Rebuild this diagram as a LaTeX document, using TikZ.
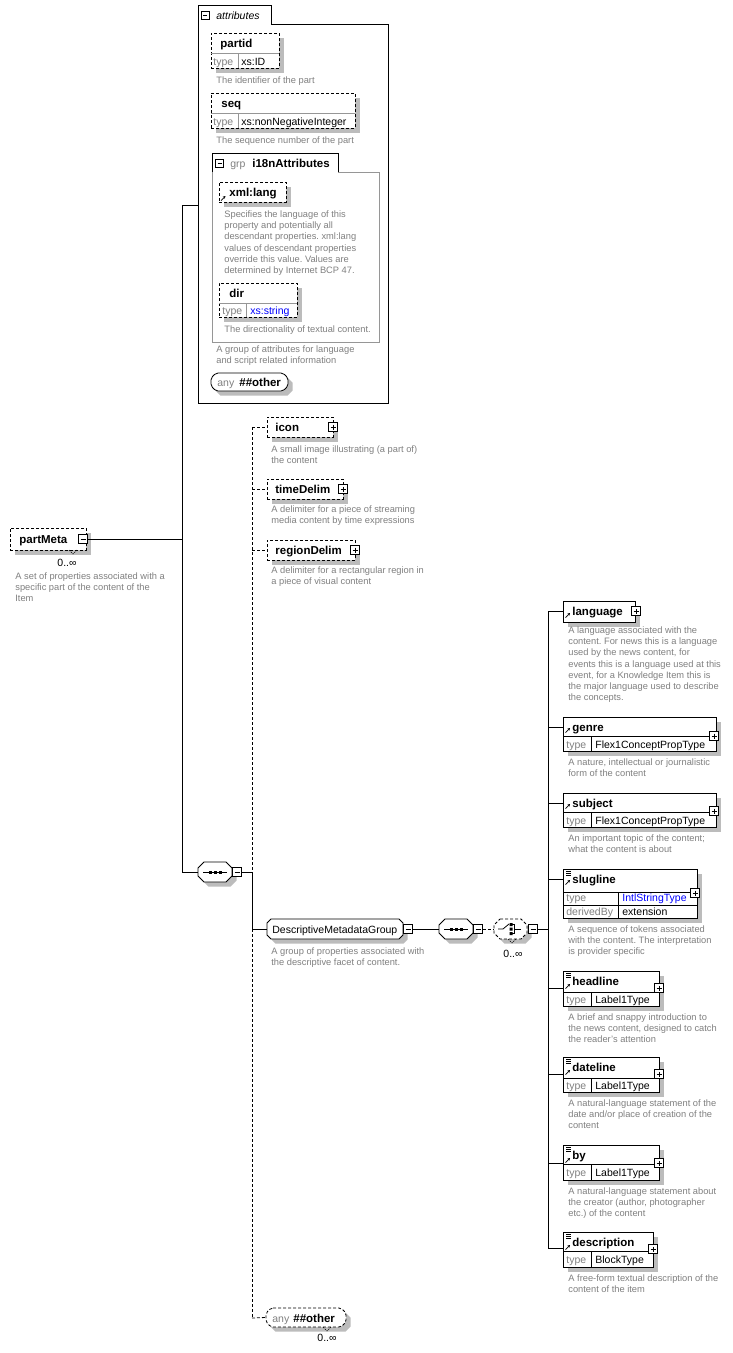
\documentclass[tikz,border=0pt]{standalone}
\usepackage{fontspec}
\setmainfont{Liberation Sans}
\usetikzlibrary{fit,arrows.meta}
\definecolor{shd}{RGB}{188,188,188}
\definecolor{dscc}{RGB}{128,128,128}
\definecolor{grpc}{RGB}{150,150,150}
\definecolor{typeblue}{RGB}{0,0,255}
\tikzset{
 rbox/.style={draw, fill=white, inner sep=0pt},
 obox/.style={rbox, dash pattern=on 3pt off 2pt},
 nm/.style={font=\fontsize{11.5}{13}\selectfont\bfseries, inner sep=0pt, anchor=base west},
 tx/.style={font=\fontsize{10.5}{12}\selectfont, inner sep=0pt, anchor=base west},
 gtx/.style={tx, text=dscc},
 btx/.style={tx, text=typeblue},
 desc/.style={font=\fontsize{9.3}{11.2}\selectfont\frenchspacing, text=dscc, inner sep=0pt, anchor=north west, align=left, execute at begin node=\strut},
 xbox/.style={draw, fill=white, minimum size=9pt, inner sep=0pt, line width=0.6pt},
 pbox/.style={xbox, path picture={\draw[line width=0.6pt] ([xshift=2pt]path picture bounding box.west) -- ([xshift=-2pt]path picture bounding box.east) ([yshift=-2pt]path picture bounding box.north) -- ([yshift=2pt]path picture bounding box.south);}},
 mbox/.style={xbox, path picture={\draw[line width=0.6pt] ([xshift=2pt]path picture bounding box.west) -- ([xshift=-2pt]path picture bounding box.east);}},
 oconn/.style={dash pattern=on 3pt off 2pt},
 refarrow/.style={line width=0.7pt, -{Stealth[length=2.6pt,width=2.8pt]}},
 notch/.style={line width=0.6pt, dash pattern=on 1.5pt off 1pt},
}
% shadowed box: [style]{name}{x1}{y1}{x2}{y2}
\newcommand\ebox[6][rbox]{%
 \fill[shd] ({#3+4.5},{#4+4.5}) rectangle ({#5+4.5},{#6+4.5});
 \node[#1, fit={(#3,#4)(#5,#6)}] (#2) {};}
\newcommand\octo[7]{%
 \fill[shd, shift={(4.5,4.5)}] (#2+#6,#3) -- (#4-#6,#3) -- (#4,#3+#6) -- (#4,#5-#6) -- (#4-#6,#5) -- (#2+#6,#5) -- (#2,#5-#6) -- (#2,#3+#6) -- cycle;
 \draw[fill=white,#7] (#2+#6,#3) -- (#4-#6,#3) -- (#4,#3+#6) -- (#4,#5-#6) -- (#4-#6,#5) -- (#2+#6,#5) -- (#2,#5-#6) -- (#2,#3+#6) -- cycle;
 \node[fit={(#2,#3)(#4,#5)}, inner sep=0pt] (#1) {};}
\newcommand\refic[2]{\draw[refarrow] (#1,#2) -- (#1+4.5,#2-4.5);}
\newcommand\mixic[2]{\draw[line width=0.6pt] (#1,#2) -- (#1+5,#2) (#1,#2+2) -- (#1+5,#2+2) (#1,#2+4) -- (#1+5,#2+4);}
\newcommand\seqic[2]{\draw[line width=0.8pt] (#1-12,#2) -- (#1+12,#2);
 \fill (#1-6.5,#2-1.5) rectangle (#1-3.5,#2+1.5); \fill (#1-1.5,#2-1.5) rectangle (#1+1.5,#2+1.5); \fill (#1+3.5,#2-1.5) rectangle (#1+6.5,#2+1.5);}
\newcommand\notchat[2]{\draw[notch] (#1-4,#2) -- (#1,#2+4) -- (#1+4,#2);}
\begin{document}
\begin{tikzpicture}[x=1pt,y=-1pt,line width=0.8pt]
\fill[white] (0,0) rectangle (732,1353);
\useasboundingbox (0,0) rectangle (732,1353);

% ---------------- attributes container
\draw (198,403) -- (198,5) -- (271,5) -- (271,24) -- (388,24) -- (388,403) -- cycle;
\node[fit={(198,24)(388,403)}, inner sep=0pt] (attr) {};
\node[mbox, minimum size=8pt] (attrm) at (205,15) {};
\node[tx, font=\fontsize{10.5}{12}\selectfont\itshape] (attrt) at (216,19) {attributes};

% partid
\ebox[obox]{partid}{211}{33}{279}{68}
\draw[grpc] (211,53) -- (279,53) (238,53) -- (238,68);
\node[nm] (partidt) at (220,47) {partid};
\node[gtx] (partidty) at (213,65) {type};
\node[tx] (partidtv) at (241,65) {xs:ID};
\node[desc] (partidd) at (216,75.3) {The identifier of the part};

% seq
\ebox[obox]{seq}{211}{93}{355}{128}
\draw[grpc] (211,113) -- (355,113) (238,113) -- (238,128);
\node[nm] (seqt) at (221,107) {seq};
\node[gtx] (seqty) at (213,125) {type};
\node[tx] (seqtv) at (241,125) {xs:nonNegativeInteger};
\node[desc] (seqd) at (216,135.3) {The sequence number of the part};

% group i18nAttributes
\draw[grpc] (338,172) -- (379,172) -- (379,342) -- (212,342) -- (212,172);
\draw (212,172) -- (212,153) -- (338,153) -- (338,172);
\node[fit={(212,172)(379,342)}, inner sep=0pt] (grp) {};
\node[mbox, minimum size=8pt] (grpm) at (219.5,163) {};
\node[gtx] (grpg) at (230,167) {grp};
\node[nm] (grpt) at (252,167) {i18nAttributes};

% xml:lang
\ebox[obox]{xmllang}{219}{182}{286}{202}
\node[nm] (xmllangt) at (229,196) {xml:lang};
\refic{221}{200.5}
\node[desc] (xmllangd) at (224,210.3) {Specifies the language of this\\property and potentially all\\descendant properties. xml:lang\\values of descendant properties\\override this value. Values are\\determined by Internet BCP 47.};

% dir
\ebox[obox]{dir}{219}{283}{297}{317}
\draw[grpc] (219,303) -- (297,303) (246,303) -- (246,317);
\node[nm] (dirt) at (229,297) {dir};
\node[gtx] (dirty) at (222,314) {type};
\node[btx] (dirtv) at (250,314) {xs:string};
\node[desc] (dird) at (224,324.3) {The directionality of textual content.};

\node[desc] (grpd) at (216,345.3) {A group of attributes for language\\and script related information};

% any ##other (attributes)
\octo{anyattr}{211}{373}{288}{391}{5}{rounded corners=2pt}
\node[gtx] (anyattrg) at (217,386) {any};
\node[nm] (anyattrt) at (239,386) {\#\#other};

% ---------------- partMeta
\ebox[obox]{partMeta}{10}{528}{86}{550}
\notchat{73}{550}
\node[nm] (pmt) at (19,543) {partMeta};
\node[mbox] (pmm) at (83,539) {};
\node[tx, anchor=base] (pmocc) at (67,566) {0..∞};
\node[desc] (pmd) at (15,572.3) {A set of properties associated with a\\specific part of the content of the\\Item};

% trunk A
\coordinate (aTop) at (182,205);
\coordinate (aMid) at (182,539);
\coordinate (aBot) at (182,872);
\draw (aTop) -- (aBot);
\draw (aTop) -- (attr.west |- aTop);
\draw (pmm.east) -- (aMid);

% sequence 1
\octo{seqA}{198}{862}{232}{882}{6}{}
\seqic{215}{872}
\node[mbox] (seqAm) at (237,872) {};
\draw (aBot) -- (seqA.west);

% trunk B
\coordinate (bIcon) at (252,427);
\coordinate (bTime) at (252,489);
\coordinate (bRegion) at (252,550);
\coordinate (bSeq) at (252,872);
\coordinate (bDMG) at (252,929);
\coordinate (bAny) at (252,1318);
\draw[oconn] (bIcon) -- (bSeq);
\draw (bSeq) -- (bDMG);
\draw[oconn] (bDMG) -- (bAny);
\draw (seqAm.east) -- (bSeq);

% icon
\ebox[obox]{icon}{267}{417}{333}{437}
\node[nm] (icont) at (275,431) {icon};
\node[pbox] (iconp) at (333,427) {};
\node[desc] (icond) at (271,445.3) {A small image illustrating (a part of)\\the content};
\draw[oconn] (bIcon) -- (icon.west);

% timeDelim
\ebox[obox]{timeDelim}{267}{479}{343}{499}
\node[nm] (timeDelimt) at (275,493) {timeDelim};
\node[pbox] (timeDelimp) at (343,489) {};
\node[desc] (timeDelimd) at (271,505.3) {A delimiter for a piece of streaming\\media content by time expressions};
\draw[oconn] (bTime) -- (timeDelim.west);

% regionDelim
\ebox[obox]{regionDelim}{267}{540}{355}{560}
\node[nm] (regionDelimt) at (275,554) {regionDelim};
\node[pbox] (regionDelimp) at (355,550) {};
\node[desc] (regionDelimd) at (271,566.3) {A delimiter for a rectangular region in\\a piece of visual content};
\draw[oconn] (bRegion) -- (regionDelim.west);

% DescriptiveMetadataGroup
\octo{dmg}{267}{919}{403}{939}{4}{}
\node[tx] (dmgt) at (272,933) {DescriptiveMetadataGroup};
\node[mbox] (dmgm) at (408,929) {};
\node[desc] (dmgd) at (271,947.3) {A group of properties associated with\\the descriptive facet of content.};
\draw (bDMG) -- (dmg.west);

% sequence 2
\octo{seqB}{439}{919}{473}{939}{6}{}
\seqic{456}{929}
\node[mbox] (seqBm) at (478,929) {};
\draw (dmgm.east) -- (seqB.west);

% choice
\octo{choice}{494}{919}{527}{939}{6}{dash pattern=on 3pt off 2pt}
\notchat{512}{939}
\draw[line width=0.8pt] (498,929) -- (503,929) -- (509,924);
\draw[line width=0.7pt] (511,924.5) -- (514,924.5) -- (514,933.5) -- (511,933.5) (514,929) -- (521,929);
\fill (509.5,923) rectangle (512.5,926) (509.5,927.5) rectangle (512.5,930.5) (509.5,932) rectangle (512.5,935);
\node[mbox] (choicem) at (533,929) {};
\node[tx, anchor=base] (choiceocc) at (513,957) {0..∞};
\draw[oconn] (seqBm.east) -- (choice.west);

% any ##other (elements)
\octo{anyel}{266}{1308}{346}{1327}{5}{dash pattern=on 3pt off 2pt, rounded corners=2pt}
\notchat{327}{1327}
\node[gtx] (anyelg) at (272,1322) {any};
\node[nm] (anyelt) at (293,1322) {\#\#other};
\node[tx, anchor=base] (anyelocc) at (327,1341) {0..∞};
\draw[oconn] (bAny) -- (anyel.west);

% trunk C
\coordinate (cLang) at (548,611);
\coordinate (cGenre) at (548,727);
\coordinate (cSubj) at (548,803);
\coordinate (cSlug) at (548,879);
\coordinate (cChoice) at (548,929);
\coordinate (cHead) at (548,988);
\coordinate (cDate) at (548,1074);
\coordinate (cBy) at (548,1163);
\coordinate (cDesc) at (548,1248);
\draw (cLang) -- (cDesc);
\draw (choicem.east) -- (cChoice);

% language
\ebox{language}{563}{601}{635}{622}
\node[nm] (languaget) at (572,615) {language};
\refic{565.5}{617.5}
\node[pbox] (languagep) at (636,611) {};
\node[desc] (languaged) at (568,626.3) {A language associated with the\\content. For news this is a language\\used by the news content, for\\events this is a language used at this\\event, for a Knowledge Item this is\\the major language used to describe\\the concepts.};
\draw (cLang) -- (language.west |- cLang);

% genre
\ebox{genre}{563}{717}{716}{751}
\draw (563,736) -- (716,736) (591,736) -- (591,751);
\node[nm] (genret) at (572,731) {genre};
\refic{565.5}{732.5}
\node[gtx] (genrety) at (566,748) {type};
\node[tx] (genretv) at (595,748) {Flex1ConceptPropType};
\node[pbox] (genrep) at (714,736) {};
\node[desc] (genred) at (568,758.3) {A nature, intellectual or journalistic\\form of the content};
\draw (cGenre) -- (genre.west |- cGenre);

% subject
\ebox{subject}{563}{793}{716}{827}
\draw (563,812) -- (716,812) (591,812) -- (591,827);
\node[nm] (subjectt) at (572,807) {subject};
\refic{565.5}{808.5}
\node[gtx] (subjectty) at (566,824) {type};
\node[tx] (subjecttv) at (595,824) {Flex1ConceptPropType};
\node[pbox] (subjectp) at (714,811) {};
\node[desc] (subjectd) at (568,834.3) {An important topic of the content;\\what the content is about};
\draw (cSubj) -- (subject.west |- cSubj);

% slugline
\ebox{slugline}{563}{869}{697}{918}
\draw (563,892) -- (697,892) (563,905) -- (697,905) (618,892) -- (618,918);
\node[nm] (sluglinet) at (572,883) {slugline};
\mixic{566}{871}
\refic{565.5}{884.5}
\node[gtx] (sluglinety) at (566,901.5) {type};
\node[btx] (sluglinetv) at (622,901.5) {IntlStringType};
\node[gtx] (sluglinedy) at (566,915) {derivedBy};
\node[tx] (sluglinedv) at (622,915) {extension};
\node[pbox] (sluglinep) at (695,893) {};
\node[desc] (sluglined) at (568,925.3) {A sequence of tokens associated\\with the content. The interpretation\\is provider specific};
\draw (cSlug) -- (slugline.west |- cSlug);

% headline
\ebox{headline}{563}{971}{659}{1006}
\draw (563,992) -- (659,992) (591,992) -- (591,1006);
\node[nm] (headlinet) at (572,985) {headline};
\mixic{566}{973}
\refic{565.5}{988.5}
\node[gtx] (headlinety) at (566,1003) {type};
\node[tx] (headlinetv) at (595,1003) {Label1Type};
\node[pbox] (headlinep) at (659,988) {};
\node[desc] (headlined) at (568,1013.3) {A brief and snappy introduction to\\the news content, designed to catch\\the reader's attention};
\draw (cHead) -- (headline.west |- cHead);

% dateline
\ebox{dateline}{563}{1057}{659}{1092}
\draw (563,1078) -- (659,1078) (591,1078) -- (591,1092);
\node[nm] (datelinet) at (572,1071) {dateline};
\mixic{566}{1059}
\refic{565.5}{1074.5}
\node[gtx] (datelinety) at (566,1089) {type};
\node[tx] (datelinetv) at (595,1089) {Label1Type};
\node[pbox] (datelinep) at (659,1074) {};
\node[desc] (datelined) at (568,1099.3) {A natural-language statement of the\\date and/or place of creation of the\\content};
\draw (cDate) -- (dateline.west |- cDate);

% by
\ebox{by}{563}{1145}{659}{1180}
\draw (563,1164) -- (659,1164) (591,1164) -- (591,1180);
\node[nm] (byt) at (572,1159) {by};
\mixic{566}{1147}
\refic{565.5}{1162.5}
\node[gtx] (byty) at (566,1176.5) {type};
\node[tx] (bytv) at (595,1176.5) {Label1Type};
\node[pbox] (byp) at (659,1163) {};
\node[desc] (byd) at (568,1187.3) {A natural-language statement about\\the creator (author, photographer\\etc.) of the content};
\draw (cBy) -- (by.west |- cBy);

% description
\ebox{description}{563}{1232}{653}{1267}
\draw (563,1251) -- (653,1251) (591,1251) -- (591,1267);
\node[nm] (descriptiont) at (572,1246) {description};
\mixic{566}{1234}
\refic{565.5}{1249.5}
\node[gtx] (descriptionty) at (566,1263.5) {type};
\node[tx] (descriptiontv) at (595,1263.5) {BlockType};
\node[pbox] (descriptionp) at (653,1249) {};
\node[desc] (descriptiond) at (568,1274.3) {A free-form textual description of the\\content of the item};
\draw (cDesc) -- (description.west |- cDesc);
\end{tikzpicture}
\end{document}
